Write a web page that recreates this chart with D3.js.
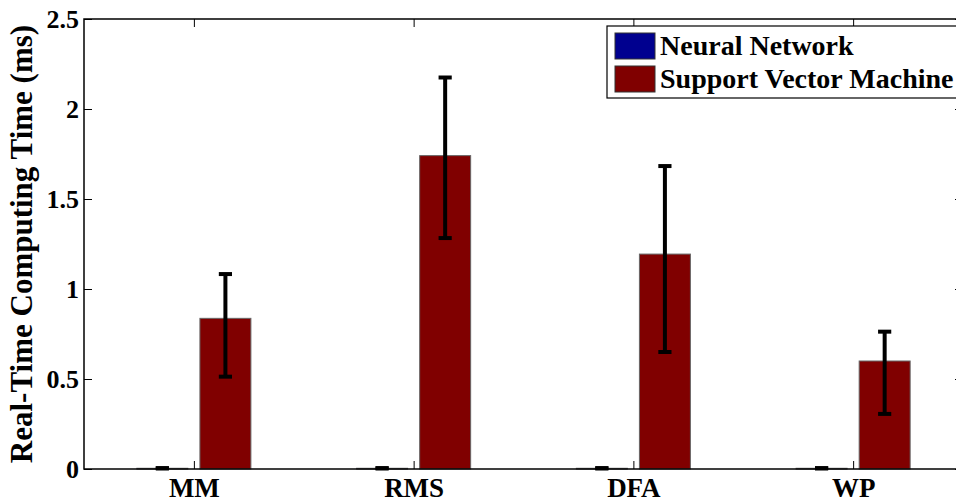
<!DOCTYPE html>
<html>
<head>
<meta charset="utf-8">
<script src="https://cdn.jsdelivr.net/npm/d3@7"></script>
<style>
  html, body { margin: 0; padding: 0; background: #fff; overflow: hidden; }
  svg { display: block; }
  text { font-family: "Liberation Serif", "Times New Roman", serif; font-weight: bold; }
</style>
</head>
<body>
<svg id="chart" width="956" height="502"></svg>
<script>
// Feature extraction methods
const categories = ["MM", "RMS", "DFA", "WP"];
const seriesNames = ["Neural Network", "Support Vector Machine"];

// Mean real-time computing time (ms)
const nnValues = [0.004, 0.004, 0.004, 0.004];
const svmValues = [0.837, 1.741, 1.194, 0.600];

// Error bar extents (ms)
const nnLow = [0.003, 0.003, 0.003, 0.003];
const nnHigh = [0.005, 0.005, 0.005, 0.005];
const svmLow = [0.513, 1.283, 0.650, 0.306];
const svmHigh = [1.083, 2.175, 1.683, 0.763];

const yTicks = [0, 0.5, 1, 1.5, 2, 2.5];
const yTickLabels = ["0", "0.5", "1", "1.5", "2", "2.5"];
const colors = ["#00008f", "#800000"];

const svg = d3.select("#chart");
const plotLeft = 84, plotRight = 963, plotTop = 19, plotBottom = 469;

const x = d3.scaleLinear().domain([0.5, categories.length + 0.5]).range([plotLeft, plotRight]);
const y = d3.scaleLinear().domain([0, 2.5]).range([plotBottom, plotTop]);

const offset = 0.1435;   // group offset in category units
const barW = 0.232;      // bar width in category units

const series = [
  { values: nnValues, low: nnLow, high: nnHigh, color: colors[0], dx: -offset },
  { values: svmValues, low: svmLow, high: svmHigh, color: colors[1], dx: offset }
];

// Bars
series.forEach(s => {
  svg.append("g").selectAll("rect")
    .data(s.values)
    .join("rect")
    .attr("x", (d, i) => x(i + 1 + s.dx - barW / 2))
    .attr("width", x(barW) - x(0))
    .attr("y", d => y(d))
    .attr("height", d => Math.max(0.8, y(0) - y(d)))
    .attr("fill", s.color)
    .attr("stroke", "#666")
    .attr("stroke-width", 1);
});

// Error bars
series.forEach(s => {
  const g = svg.append("g").attr("stroke", "#000");
  const capW = x(0.06) - x(0);
  s.values.forEach((d, i) => {
    const cx = x(i + 1 + s.dx);
    g.append("line").attr("x1", cx).attr("x2", cx)
      .attr("y1", y(s.low[i])).attr("y2", y(s.high[i])).attr("stroke-width", 4);
    [s.low[i], s.high[i]].forEach(v => {
      g.append("line").attr("x1", cx - capW / 2).attr("x2", cx + capW / 2)
        .attr("y1", y(v)).attr("y2", y(v)).attr("stroke-width", 4);
    });
  });
});

// Axes box with inward ticks
const tickLen = 8;
svg.append("rect")
  .attr("x", plotLeft).attr("y", plotTop)
  .attr("width", plotRight - plotLeft).attr("height", plotBottom - plotTop)
  .attr("fill", "none").attr("stroke", "#000").attr("stroke-width", 1.5);

const yAxisL = d3.axisLeft(y).tickValues(yTicks)
  .tickFormat((d, i) => yTickLabels[i]).tickSizeInner(-tickLen).tickSizeOuter(0).tickPadding(5);
const gy = svg.append("g").attr("transform", `translate(${plotLeft},0)`).call(yAxisL);
gy.select(".domain").remove();
gy.selectAll("line").attr("stroke", "#000").attr("stroke-width", 1);
gy.selectAll("text").attr("font-size", 26).attr("fill", "#000")
  .attr("font-family", "Liberation Serif").attr("font-weight", "bold").attr("dy", "0.34em");

const yAxisR = d3.axisRight(y).tickValues(yTicks).tickFormat("").tickSizeInner(-tickLen).tickSizeOuter(0);
const gyr = svg.append("g").attr("transform", `translate(${plotRight},0)`).call(yAxisR);
gyr.select(".domain").remove();
gyr.selectAll("line").attr("stroke", "#000").attr("stroke-width", 1);

const catTicks = categories.map((c, i) => i + 1);
const xAxisB = d3.axisBottom(x).tickValues(catTicks)
  .tickFormat((d, i) => categories[i]).tickSizeInner(-tickLen).tickSizeOuter(0);
const gx = svg.append("g").attr("transform", `translate(0,${plotBottom})`).call(xAxisB);
gx.select(".domain").remove();
gx.selectAll("line").attr("stroke", "#000").attr("stroke-width", 1);
gx.selectAll("text").attr("font-size", 27).attr("fill", "#000")
  .attr("font-family", "Liberation Serif").attr("font-weight", "bold")
  .attr("y", 28).attr("dy", 0);

const xAxisT = d3.axisTop(x).tickValues(catTicks).tickFormat("").tickSizeInner(-tickLen).tickSizeOuter(0);
const gxt = svg.append("g").attr("transform", `translate(0,${plotTop})`).call(xAxisT);
gxt.select(".domain").remove();
gxt.selectAll("line").attr("stroke", "#000").attr("stroke-width", 1);

// Y axis title
svg.append("text")
  .attr("transform", `translate(32,${(plotTop + plotBottom) / 2}) rotate(-90)`)
  .attr("text-anchor", "middle")
  .attr("font-size", 31)
  .attr("fill", "#000")
  .text("Real-Time Computing Time (ms)");

// Legend
const lg = svg.append("g");
lg.append("rect")
  .attr("x", 607).attr("y", 26).attr("width", 370).attr("height", 72)
  .attr("fill", "#fff").attr("stroke", "#000").attr("stroke-width", 1.2);
seriesNames.forEach((name, i) => {
  const yy = 33 + i * 33;
  lg.append("rect")
    .attr("x", 615).attr("y", yy).attr("width", 40).attr("height", 26)
    .attr("fill", colors[i]).attr("stroke", "#333").attr("stroke-width", 1);
  lg.append("text")
    .attr("x", 660).attr("y", yy + 22)
    .attr("font-size", 28).attr("fill", "#000")
    .text(name);
});
</script>
</body>
</html>
